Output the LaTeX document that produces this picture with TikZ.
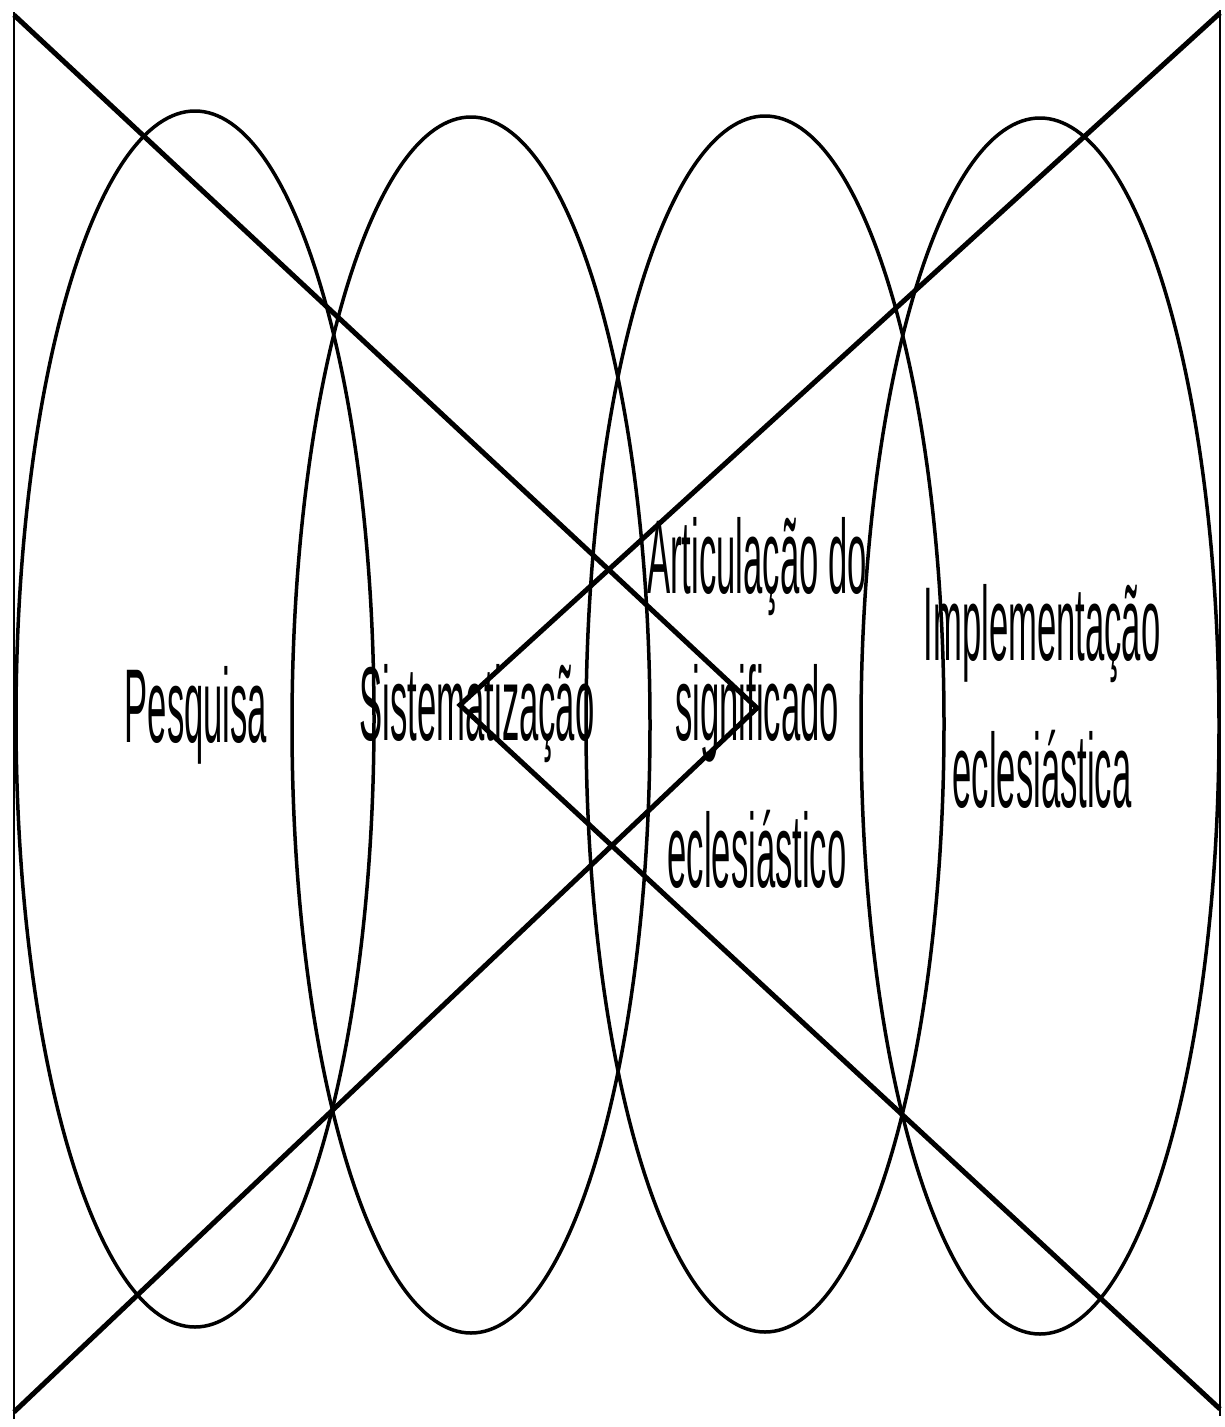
\documentclass[tikz,border=0pt]{standalone}
\usepackage{fontspec}
\setmainfont{Liberation Sans}
\usepackage{graphicx}
\usetikzlibrary{shapes.geometric}
\newcommand{\narrowtxt}[1]{\scalebox{0.33}[1]{\begin{tabular}[t]{@{}c@{}}#1\end{tabular}}}
\tikzset{
  oval/.style={draw=black, line width=3.5pt, ellipse, inner sep=0pt, minimum width=358pt, minimum height=1216pt},
  cross/.style={draw=black, line width=5pt, line join=miter},
  side/.style={draw=black, line width=2.5pt},
  lbl/.style={inner sep=0pt, anchor=base, font=\fontsize{105}{147}\selectfont}
}
\begin{document}
\begin{tikzpicture}[x=1pt,y=-1pt]
\useasboundingbox (0,0) rectangle (1225,1427);
\fill[white] (0,0) rectangle (1225,1427);
% corners
\coordinate (tl) at (14,15);
\coordinate (bl) at (14,1412);
\coordinate (tr) at (1220,13);
\coordinate (br) at (1220,1409);
\coordinate (tlb) at (14,12);
\coordinate (blb) at (14,1419);
\coordinate (trb) at (1220,10);
\coordinate (brb) at (1220,1416);
% vertices of the two chevrons
\coordinate (vl) at (460,705);
\coordinate (vr) at (757,708);
% ellipses
\node[oval] (e1) at (195,719) {};
\node[oval] (e2) at (471,725) {};
\node[oval] (e3) at (765,724) {};
\node[oval] (e4) at (1040,726) {};
% side lines
\draw[side] (tlb) -- (blb);
\draw[side] (trb) -- (brb);
% labels
\node[lbl] (t1) at (196,742) {\narrowtxt{Pesquisa}};
\node[lbl] (t2) at (477,740) {\narrowtxt{Sistematização}};
\node[lbl] (t3) at (757,593) {\narrowtxt{Articulação do\\significado\\eclesiástico}};
\node[lbl] (t4) at (1042,660) {\narrowtxt{Implementação\\eclesiástica}};
% chevrons
\draw[cross] (tl) -- (vr) -- (bl);
\draw[cross] (tr) -- (vl) -- (br);
\end{tikzpicture}
\end{document}
